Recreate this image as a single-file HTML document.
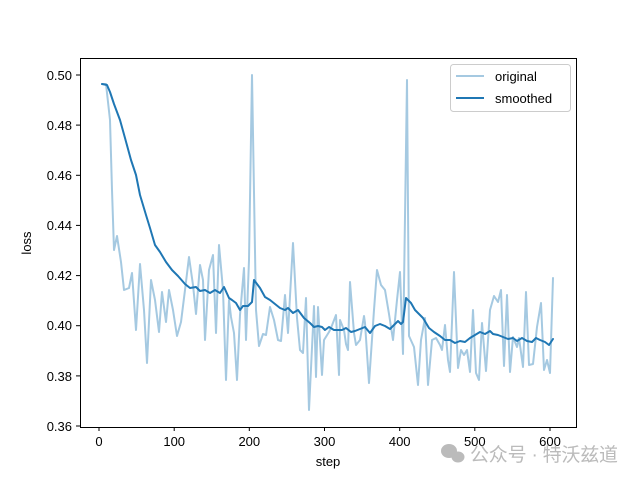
<!DOCTYPE html>
<html><head><meta charset="utf-8"><style>
body{margin:0;background:#fff;}
svg{display:block;font-family:"Liberation Sans","DejaVu Sans",sans-serif;}
</style></head><body>
<svg width="640" height="480" viewBox="0 0 640 480" xmlns="http://www.w3.org/2000/svg">
<rect width="640" height="480" fill="#fff"/>
<g fill="none" stroke-linejoin="round" stroke-linecap="round">
<polyline stroke="#1f77b4" stroke-opacity="0.4" stroke-width="2" points="102,84 106,84 110,120 112,190 114,250 117,236 121,262 124,290 129,288 132,273 136,330 140,264 144,310 147,363 151,280 155,300 159,332 162,292 166,322 169,290 173,310 177,336 181,322 185,290 189,257 193,285 196,314 200,265 203,280 205,340 209,270 213,255 216,333 219,245 223,290 226,380 229,300 231,317 234,333 237,380 240,315 244,268 246,340 249,260 252,75 256,310 259,346 263,334 266,335 270,307 274,320 278,340 281,341 285,295 288,333 290,296 293,243 297,318 300,350 303,353 306,298 309,410 314,306 316,377 318,307 322,375 324,340 329,332 331,328 336,315 339,375 340,320 344,330 346,344 348,350 350,282 354,333 356,345 360,340 364,316 365,323 369,383 374,310 377,270 381,285 385,290 389,314 393,340 397,300 400,272 403,354 407,80 409,336 414,347 418,385 421,340 425,318 428,385 432,340 436,338 440,345 442,350 445,325 448,360 450,372 454,272 458,368 461,350 464,355 467,350 470,372 473,310 476,373 479,380 482,323 486,371 490,310 494,296 498,302 501,290 504,366 507,295 510,372 513,337 517,347 519,338 523,367 526,292 529,365 533,364 537,327 541,303 544,370 547,360 550,373 553,278"/>
<polyline stroke="#1f77b4" stroke-width="2" points="102,84 107,85 110,92 114,104 120,120 125,138 131,160 136,175 140,195 146,215 150,228 155,245 160,252 166,262 172,270 178,276 185,284 190,288 196,287 200,291 205,290 210,293 215,290 220,293 224,287 229,298 232,300 236,303 240,310 243,306 248,306 252,302 254,280 260,288 265,297 270,300 275,304 280,308 285,310 288,308 293,313 298,310 304,318 310,323 314,327 318,326 322,327 325,330 329,327 334,330 339,330 342,330 346,328 351,332 355,331 360,329 365,327 370,333 375,326 380,324 385,326 390,329 395,324 398,321 401,324 403,322 406,298 411,303 415,310 420,315 423,318 429,328 434,332 440,336 445,340 450,340 455,343 460,341 465,342 470,338 475,335 480,332 485,334 490,331 493,334 498,335 503,337 508,339 513,338 517,341 522,338 527,341 532,342 536,338 540,340 545,342 549,345 553,339"/>
</g>
<rect x="80.5" y="58.5" width="496" height="369" fill="none" stroke="#000" stroke-width="1"/>
<g stroke="#000" stroke-width="1">
<line x1="99" y1="427" x2="99" y2="431"/><line x1="174.2" y1="427" x2="174.2" y2="431"/><line x1="249.3" y1="427" x2="249.3" y2="431"/><line x1="324.5" y1="427" x2="324.5" y2="431"/><line x1="399.7" y1="427" x2="399.7" y2="431"/><line x1="474.8" y1="427" x2="474.8" y2="431"/><line x1="550" y1="427" x2="550" y2="431"/>
<line x1="76" y1="75" x2="80" y2="75"/><line x1="76" y1="125.1" x2="80" y2="125.1"/><line x1="76" y1="175.3" x2="80" y2="175.3"/><line x1="76" y1="225.4" x2="80" y2="225.4"/><line x1="76" y1="275.6" x2="80" y2="275.6"/><line x1="76" y1="325.7" x2="80" y2="325.7"/><line x1="76" y1="375.9" x2="80" y2="375.9"/><line x1="76" y1="426" x2="80" y2="426"/>
</g>
<g font-size="13" fill="#000" text-anchor="middle">
<text x="99" y="446">0</text><text x="174.2" y="446">100</text><text x="249.3" y="446">200</text><text x="324.5" y="446">300</text><text x="399.7" y="446">400</text><text x="474.8" y="446">500</text><text x="550" y="446">600</text>
<text x="328" y="466">step</text>
</g>
<g font-size="13" fill="#000" text-anchor="end">
<text x="72" y="80">0.50</text><text x="72" y="130">0.48</text><text x="72" y="180">0.46</text><text x="72" y="230">0.44</text><text x="72" y="280">0.42</text><text x="72" y="330">0.40</text><text x="72" y="381">0.38</text><text x="72" y="431">0.36</text>
</g>
<text x="31" y="243" font-size="13" text-anchor="middle" transform="rotate(-90 31 243)">loss</text>
<rect x="450.5" y="64.5" width="120" height="47" rx="3" fill="#fff" fill-opacity="0.8" stroke="#ccc"/>
<line x1="456" y1="76" x2="484" y2="76" stroke="#1f77b4" stroke-opacity="0.4" stroke-width="2"/>
<line x1="456" y1="98" x2="484" y2="98" stroke="#1f77b4" stroke-width="2"/>
<text x="495" y="81" font-size="13">original</text>
<text x="495" y="103" font-size="13">smoothed</text>
<g fill="#bbb">
<ellipse cx="449" cy="451" rx="8" ry="7"/><ellipse cx="458" cy="457" rx="6.5" ry="5.5"/>
</g>
<text x="470" y="461" font-size="19" fill="#bbb" textLength="148" font-family="'Liberation Sans','Noto Sans CJK SC',sans-serif">公众号 · 特沃兹道</text>
</svg>
</body></html>
